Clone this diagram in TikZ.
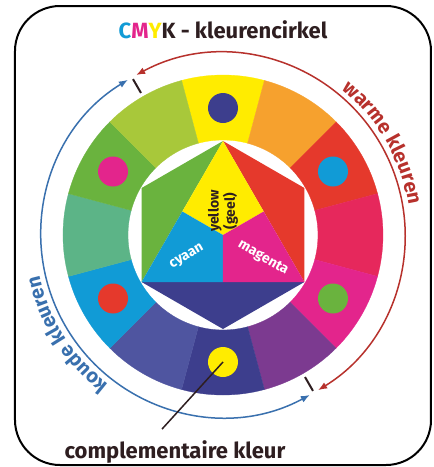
\documentclass[tikz,border=0pt]{standalone}
\usepackage{fontspec}
\setmainfont{Fira Sans}
\usepackage{xcolor}
\usetikzlibrary{arrows.meta,decorations.text,calc}

\definecolor{cyel}{HTML}{FFEC00}
\definecolor{corange}{HTML}{F6A12E}
\definecolor{cred}{HTML}{E5392C}
\definecolor{ccrim}{HTML}{E6285C}
\definecolor{cmag}{HTML}{E3258C}
\definecolor{cpurp}{HTML}{7C3A90}
\definecolor{cviol}{HTML}{3D3E8D}
\definecolor{cblvi}{HTML}{4F55A0}
\definecolor{ccyan}{HTML}{119BD6}
\definecolor{cteal}{HTML}{5CB487}
\definecolor{cgreen}{HTML}{6AB33E}
\definecolor{cygreen}{HTML}{A8C83A}
\definecolor{cwarm}{HTML}{B7312C}
\definecolor{ccool}{HTML}{3970AE}
\definecolor{ctext}{HTML}{2E1E20}

\begin{document}
\begin{tikzpicture}[
  x=1pt, y=1pt,
  dot/.style={circle, inner sep=0pt, minimum size=30pt},
  lbl/.style={font=\fontsize{22}{24}\selectfont\bfseries, text=ctext},
  inlbl/.style={font=\fontsize{14}{12}\selectfont\bfseries, align=center, inner sep=0pt},
  warm/.style={cwarm, line width=1.5pt, {Latex[length=9pt,width=7pt]}-{Latex[length=9pt,width=7pt]}},
  cool/.style={ccool, line width=1.5pt, {Latex[length=9pt,width=7pt]}-{Latex[length=9pt,width=7pt]}},
  tick/.style={ctext, line width=2pt}
]
  \useasboundingbox[fill=white] (-223,-232) rectangle (211,235);
  \draw[line width=2pt, rounded corners=45pt] (-208,229) rectangle (208,-230);

  % outer ring, clockwise from the top
  \foreach \c [count=\i from 0] in {cyel,corange,cred,ccrim,cmag,cpurp,cviol,cblvi,ccyan,cteal,cgreen,cygreen} {
    \pgfmathsetmacro\s{90-30*\i+15}
    \pgfmathsetmacro\e{90-30*\i-15}
    \fill[\c, draw=\c, line width=0.3pt] (\s:95) arc[start angle=\s, end angle=\e, radius=95]
      -- (\e:160) arc[start angle=\e, end angle=\s, radius=160] -- cycle;
  }

  % complementary dots
  \foreach \a/\c/\n in {90/cviol/top, 30/ccyan/ur, -30/cgreen/lr, -90/cyel/bot, -150/cred/ll, 150/cmag/ul}
    \node[dot, fill=\c] (dot\n) at (\a:127) {};

  % colour star
  \coordinate (T) at (90:94);
  \coordinate (L) at (-150:94);
  \coordinate (R) at (-30:94);
  \coordinate (O) at (0,0);
  \coordinate (ML) at ($(T)!0.5!(L)$);
  \coordinate (MR) at ($(T)!0.5!(R)$);
  \coordinate (MB) at ($(L)!0.5!(R)$);
  \fill[cgreen] (T) -- (150:94) -- (L) -- cycle;
  \fill[cred] (T) -- (30:94) -- (R) -- cycle;
  \fill[cviol] (L) -- (-90:94) -- (R) -- cycle;
  \fill[cyel] (T) -- (ML) -- (O) -- (MR) -- cycle;
  \fill[ccyan] (ML) -- (L) -- (MB) -- (O) -- cycle;
  \fill[cmag] (O) -- (MB) -- (R) -- (MR) -- cycle;

  \node[inlbl, text=ctext, rotate=90] (geel) at (0,24) {yellow\\(geel)};
  \node[inlbl, text=white, rotate=30] (cyaan) at (-36,-22) {cyaan};
  \node[inlbl, text=white, rotate=-30] (magenta) at (40,-23) {magenta};

  % warm / cool arcs
  \draw[warm] (118.5:182) arc[start angle=118.5, end angle=-58.5, radius=182];
  \draw[cool] (121.5:182) arc[start angle=121.5, end angle=298.5, radius=182];
  \draw[tick] (120:164) -- (120:180);
  \draw[tick] (-60:164) -- (-60:180);

  \path[decorate, decoration={text along path, text align=center,
    text={|\fontsize{20}{20}\selectfont\bfseries\color{cwarm}|warme kleuren}}]
    (70:188) arc[start angle=70, end angle=-10, radius=188];
  \path[decorate, decoration={text along path, text align=center,
    text={|\fontsize{20}{20}\selectfont\bfseries\color{ccool}|koude kleuren}}]
    (-107.5:188) arc[start angle=-107.5, end angle=-187.5, radius=188];

  \node[lbl] (title) at (0,205) {{\color{ccyan}C}{\color{cmag}M}{\color{cyel}Y}K - kleurencirkel};
  \node[lbl] (compl) at (-48,-217) {complementaire kleur};
  \draw[ctext, line width=1.5pt] (dotbot.center) -- ([xshift=-13pt, yshift=8pt]compl.north);
\end{tikzpicture}
\end{document}
